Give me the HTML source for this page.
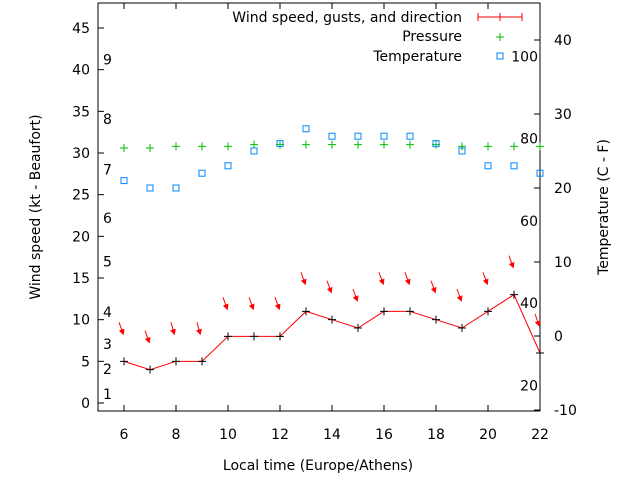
<!DOCTYPE html>
<html><head><meta charset="utf-8"><style>
body{margin:0;background:#fff}
svg{font-family:"DejaVu Sans","Liberation Sans",sans-serif;font-size:14px}
</style></head><body>
<svg id="c" width="640" height="480" xmlns="http://www.w3.org/2000/svg">
<defs><marker id="ah" markerWidth="6" markerHeight="6" refX="4" refY="3" orient="auto" markerUnits="userSpaceOnUse"><path d="M0,0 L6,3 L0,6 Z" fill="#f00"/></marker></defs>
<g id="g"></g>
</svg>
<script>
const hours=[6,7,8,9,10,11,12,13,14,15,16,17,18,19,20,21,22];
const wind=[5,4,5,5,8,8,8,11,10,9,11,11,10,9,11,13,6];
const pressure=[30.6,30.6,30.8,30.8,30.8,31,31,31,31,31,31,31,31,30.8,30.8,30.8,30.8];
const temperature=[21,20,20,22,23,25,26,28,27,27,27,27,26,25,23,23,22];
const arrowDx=[4,4,3,3,4,4,4,4,4,4,4,4,4,4,4,4,4];
const xTicks=[6,8,10,12,14,16,18,20,22];
const yTicks=[0,5,10,15,20,25,30,35,40,45];
const y2Ticks=[-10,0,10,20,30,40];
const beaufort=["1","2","3","4","5","6","7","8","9"];
const beaufortY=[1.1,4.1,7.1,10.9,17,22.2,28,34.1,41.2];
const fahr=["20","40","60","80","100"];
const L=98,R=540,T=3,B=411;
const X=h=>L+(h-5)*26;
const Y=v=>403-v*8.333;
const Y2=t=>336-t*7.4;
const NS="http://www.w3.org/2000/svg",g=document.getElementById('g');
function el(t,a,txt){const e=document.createElementNS(NS,t);for(const k in a)e.setAttribute(k,a[k]);if(txt!=null)e.textContent=txt;g.appendChild(e);return e;}
let e=el('rect',{x:L,y:T,width:R-L,height:B-T,fill:'none',stroke:'#000'});

xTicks.forEach(h=>{el('line',{x1:X(h),x2:X(h),y1:B,y2:B-6,stroke:'#000'});el('line',{x1:X(h),x2:X(h),y1:T,y2:T+6,stroke:'#000'});
 e=el('text',{x:X(h),y:B+28,'text-anchor':'middle'},h);});
yTicks.forEach(v=>{el('line',{x1:L,x2:L+6,y1:Y(v),y2:Y(v),stroke:'#000'});
 e=el('text',{x:L-8,y:Y(v)+5,'text-anchor':'end'},v);});
y2Ticks.forEach(v=>{el('line',{x1:R,x2:R-6,y1:Y2(v),y2:Y2(v),stroke:'#000'});
 e=el('text',{x:R+14,y:Y2(v)+5},v);});
beaufort.forEach((b,i)=>{e=el('text',{x:103,y:Y(beaufortY[i])+5},b);});
fahr.forEach((f,i)=>{const c=(+f-32)*5/9;e=el('text',{x:538,y:Y2(c)+5,'text-anchor':'end'},f);});
e=el('text',{x:318,y:470,'text-anchor':'middle'},'Local time (Europe/Athens)');
e=el('text',{x:40,y:207,'text-anchor':'middle',transform:'rotate(-90 40 207)'},'Wind speed (kt - Beaufort)');
e=el('text',{x:608,y:207,'text-anchor':'middle',transform:'rotate(-90 608 207)'},'Temperature (C - F)');
e=el('polyline',{points:hours.map((h,i)=>X(h)+','+Y(wind[i])).join(' '),fill:'none',stroke:'#f00'});

hours.forEach((h,i)=>{const x=X(h),y=Y(wind[i]);
 e=el('path',{d:`M${x-4},${y}h8M${x},${y-4}v8`,stroke:'#000'});
 const dx=arrowDx[i];e=el('line',{x1:x-5,y1:y-39,x2:x-5+dx,y2:y-28,stroke:'#f00','marker-end':'url(#ah)'});
 
 const px=X(h),py=Y(pressure[i]);
 e=el('path',{d:`M${px-4},${py}h8M${px},${py-4}v8`,stroke:'#0b0'});
 const ty=Y2(temperature[i]);
 e=el('rect',{x:px-3,y:ty-3,width:6,height:6,fill:'none',stroke:'#08f'});
});
e=el('text',{x:462,y:22,'text-anchor':'end'},'Wind speed, gusts, and direction');
el('path',{d:'M478,17h44M478,13v8M500,13v8M522,13v8',stroke:'#f00'});
e=el('text',{x:462,y:41,'text-anchor':'end'},'Pressure');
el('path',{d:'M496,37h8M500,33v8',stroke:'#0b0'});
e=el('text',{x:462,y:61,'text-anchor':'end'},'Temperature');
el('rect',{x:497,y:53,width:6,height:6,fill:'none',stroke:'#08f'});
</script>
</body></html>
